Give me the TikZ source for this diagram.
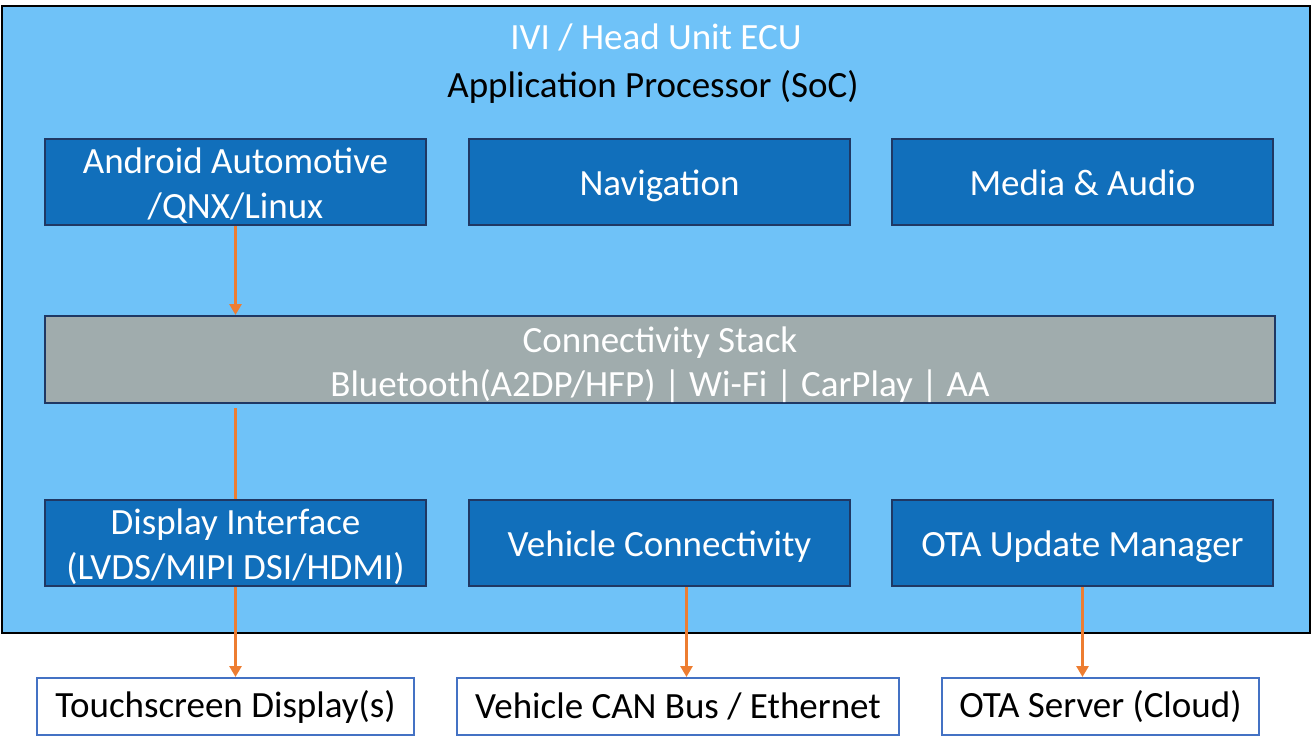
\documentclass[tikz,border=0pt]{standalone}
\usepackage{fontspec}
\setmainfont{Carlito}
\usetikzlibrary{arrows.meta,positioning}
\definecolor{ecufill}{RGB}{111,194,248}
\definecolor{modfill}{RGB}{17,111,187}
\definecolor{modline}{RGB}{31,56,100}
\definecolor{stackfill}{RGB}{160,172,173}
\definecolor{extline}{RGB}{68,114,196}
\definecolor{flowcol}{RGB}{237,125,49}

\begin{document}
\begin{tikzpicture}[x=1pt, y=-1pt, >={Triangle[width=12pt,length=11pt]},
  font=\fontsize{37}{45}\selectfont,
  module/.style={draw=modline, line width=2pt, fill=modfill, text=white,
    minimum width=381pt, minimum height=86pt, align=center, inner sep=0pt,
    execute at begin node={\rule[-9pt]{0pt}{45.5pt}}},
  twolines/.style={text height=72pt, text depth=0pt},
  stack/.style={draw=modline, line width=2pt, fill=stackfill, text=white,
    minimum width=1230pt, minimum height=87pt, align=center, inner sep=0pt,
    font=\fontsize{37}{44}\selectfont, text height=73pt, text depth=0pt},
  ext/.style={draw=extline, line width=2pt, fill=white,
    minimum height=57pt, inner sep=0pt},
  flow/.style={draw=flowcol, line width=2.75pt}]
  \useasboundingbox (0,0) rectangle (1312,752);
  \node[draw=black, line width=2.5pt, fill=ecufill, minimum width=1308pt,
    minimum height=627pt] (ecu) at (656,319.5) {};
  \node[text=white] (ecutitle) at (656,37) {IVI / Head Unit ECU};
  \node (soc) at (653,87) {Application Processor (SoC)};
  % application layer
  \node[module, twolines] (os) at (235.5,182) {Android Automotive\\/QNX/Linux};
  \node[module, right=41pt of os] (nav) {Navigation};
  \node[module, right=40pt of nav] (media) {Media \& Audio};
  % middleware
  \node[stack] (conn) at (660,359.5)
    {Connectivity Stack\\Bluetooth(A2DP/HFP) | Wi-Fi | CarPlay | AA};
  % interfaces
  \node[module, twolines] (disp) at (235.5,543) {Display Interface\\(LVDS/MIPI DSI/HDMI)};
  \node[module, right=41pt of disp] (vehconn) {Vehicle Connectivity};
  \node[module, right=40pt of vehconn] (ota) {OTA Update Manager};
  % outside the ECU
  \node[ext, minimum width=377pt] (touch) at (225.5,706.5) {Touchscreen Display(s)};
  \node[ext, minimum width=442pt] (can) at (678,706.5) {Vehicle CAN Bus / Ethernet};
  \node[ext, minimum width=317pt] (server) at (1100.5,706.5) {OTA Server (Cloud)};
  \coordinate (canlink) at ([xshift=27pt]vehconn.south);
  \draw[flow, ->] (os.south) -- (os.south |- conn.north);
  \draw[flow] ([yshift=-4pt]conn.south -| disp) -- (disp.north);
  \draw[flow, ->] (disp.south) -- (disp.south |- touch.north);
  \draw[flow, ->] (canlink) -- (canlink |- can.north);
  \draw[flow, ->] (ota.south) -- (ota.south |- server.north);
\end{tikzpicture}
\end{document}
